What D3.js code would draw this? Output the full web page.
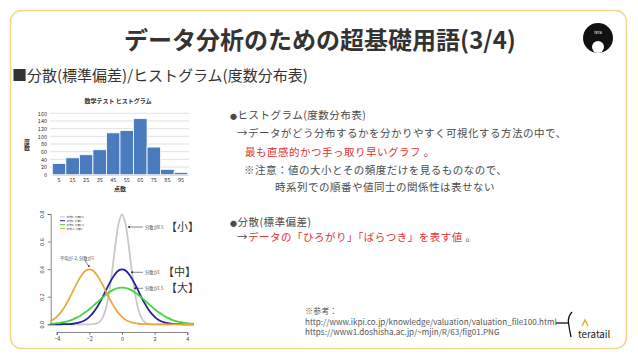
<!DOCTYPE html>
<html>
<head>
<meta charset="utf-8">
<script src="https://d3js.org/d3.v7.min.js"></script>
<style>
  body { margin: 0; background: #fff; }
  svg text { font-family: "Noto Sans CJK JP", "Noto Sans", sans-serif; }
</style>
</head>
<body>
<div id="slide"></div>
<script>
// --- histogram (数学テスト ヒストグラム) ---
const histBins = [5, 15, 25, 35, 45, 55, 65, 75, 85, 95];
const histCounts = [29, 44, 52, 65, 109, 115, 146, 72, 14, 6];
const histTicks = [0, 20, 40, 60, 80, 100, 120, 140, 160];

// --- density curves ---
const densX = [-4.4, -4.2, -4.0, -3.8, -3.6, -3.4, -3.2, -3.0, -2.8, -2.6, -2.4, -2.2, -2.0,
  -1.8, -1.6, -1.4, -1.2, -1.0, -0.8, -0.6, -0.4, -0.2, 0, 0.2, 0.4, 0.6, 0.8, 1.0, 1.2, 1.4,
  1.6, 1.8, 2.0, 2.2, 2.4, 2.6, 2.8, 3.0, 3.2, 3.4, 3.6, 3.8, 4.0, 4.2, 4.4];
const densGray = [0, 0, 0, 0, 0, 0, 0, 0, 0, 0, 0, 0, 0, 0.001, 0.005, 0.016, 0.045, 0.108, 0.222,
  0.388, 0.579, 0.737, 0.798, 0.737, 0.579, 0.388, 0.222, 0.108, 0.045, 0.016, 0.005, 0.001,
  0, 0, 0, 0, 0, 0, 0, 0, 0, 0, 0, 0, 0];
const densBlue = [0, 0, 0, 0, 0.001, 0.001, 0.002, 0.004, 0.008, 0.014, 0.022, 0.035, 0.054, 0.079,
  0.111, 0.150, 0.194, 0.242, 0.290, 0.333, 0.368, 0.391, 0.399, 0.391, 0.368, 0.333, 0.290,
  0.242, 0.194, 0.150, 0.111, 0.079, 0.054, 0.035, 0.022, 0.014, 0.008, 0.004, 0.002, 0.001,
  0.001, 0, 0, 0, 0];
const densGreen = [0.004, 0.005, 0.008, 0.011, 0.015, 0.020, 0.027, 0.036, 0.047, 0.059, 0.074,
  0.091, 0.109, 0.130, 0.151, 0.172, 0.193, 0.213, 0.231, 0.246, 0.257, 0.264, 0.266, 0.264,
  0.257, 0.246, 0.231, 0.213, 0.193, 0.172, 0.151, 0.130, 0.109, 0.091, 0.074, 0.059, 0.047,
  0.036, 0.027, 0.020, 0.015, 0.011, 0.008, 0.005, 0.004];
const densOrange = [0.022, 0.035, 0.054, 0.079, 0.111, 0.150, 0.194, 0.242, 0.290, 0.333, 0.368,
  0.391, 0.399, 0.391, 0.368, 0.333, 0.290, 0.242, 0.194, 0.150, 0.111, 0.079, 0.054, 0.035,
  0.022, 0.014, 0.008, 0.004, 0.002, 0.001, 0.001, 0, 0, 0, 0, 0, 0, 0, 0, 0, 0, 0, 0, 0, 0];
const densXTicks = [-4, -2, 0, 2, 4];
const densYTicks = [0, 0.2, 0.4, 0.6, 0.8];
const densLegend = ["平均0, 分散0.5", "平均0, 分散1", "平均0, 分散1.5", "平均-2, 分散1"];

const W = 638, H = 359;
const svg = d3.select("#slide").append("svg")
  .attr("width", W).attr("height", H);

// slide frame
svg.append("rect")
  .attr("x", 10.5).attr("y", 10.5).attr("width", 616).attr("height", 338)
  .attr("rx", 11)
  .attr("fill", "#fff").attr("stroke", "#f1d68c").attr("stroke-width", 1.5);

svg.append("text")
  .attr("x", 320).attr("y", 49)
  .attr("text-anchor", "middle")
  .attr("font-size", 24).attr("font-weight", "bold").attr("fill", "#333")
  .text("データ分析のための超基礎用語(3/4)");

svg.append("text")
  .attr("x", 12).attr("y", 80.5)
  .attr("font-size", 15).attr("fill", "#333")
  .text("■分散(標準偏差)/ヒストグラム(度数分布表)");

// afro icon top right
const icon = svg.append("g").attr("transform", "translate(598,38)");
icon.append("circle").attr("r", 15).attr("fill", "#111");
icon.append("circle").attr("cy", 9).attr("r", 6).attr("fill", "#fff");
icon.append("text").attr("y", -4).attr("text-anchor", "middle")
  .attr("font-size", 4).attr("fill", "#fff").text("tera");

// ---------- histogram ----------
const hx = d3.scaleBand().domain(histBins).range([52.3, 187.7]).padding(0);
const hy = d3.scaleLinear().domain([0, 160]).range([174.7, 113.3]);
const hist = svg.append("g");

hist.append("g").selectAll("line").data(histTicks).join("line")
  .attr("x1", 50).attr("x2", 189)
  .attr("y1", d => hy(d)).attr("y2", d => hy(d))
  .attr("stroke", "#d4d4d4").attr("stroke-width", 0.7);

hist.append("g").selectAll("rect").data(histBins).join("rect")
  .attr("x", d => hx(d)).attr("width", hx.bandwidth())
  .attr("y", (d, i) => hy(histCounts[i]))
  .attr("height", (d, i) => hy(0) - hy(histCounts[i]))
  .attr("fill", "#4a7bbf").attr("stroke", "#fff").attr("stroke-width", 0.8);

const hAxisY = hist.append("g").attr("transform", "translate(50,0)")
  .call(d3.axisLeft(hy).tickValues(histTicks).tickSize(0).tickPadding(3));
hAxisY.select(".domain").remove();
hAxisY.selectAll("text").attr("font-size", 5.5).attr("fill", "#333").attr("font-family", "Liberation Sans");

const hAxisX = hist.append("g").attr("transform", "translate(0,174.7)")
  .call(d3.axisBottom(hx).tickSize(0).tickPadding(3));
hAxisX.select(".domain").attr("stroke", "#bbb").attr("stroke-width", 0.6);
hAxisX.selectAll("text").attr("font-size", 5.5).attr("fill", "#333").attr("font-family", "Liberation Sans");

hist.append("text").attr("x", 118).attr("y", 103)
  .attr("text-anchor", "middle").attr("font-size", 6).attr("font-weight", "bold").attr("fill", "#333")
  .text("数学テスト ヒストグラム");
hist.append("text").attr("x", 120).attr("y", 191)
  .attr("text-anchor", "middle").attr("font-size", 6).attr("font-weight", "bold").attr("fill", "#333")
  .text("点数");
hist.append("text").attr("x", 27).attr("y", 145)
  .attr("writing-mode", "tb").attr("text-anchor", "middle")
  .attr("font-size", 6).attr("font-weight", "bold").attr("fill", "#333")
  .text("度数");

// ---------- density plot ----------
const dx = d3.scaleLinear().domain([-4, 4]).range([56.7, 187.3]);
const dy = d3.scaleLinear().domain([0, 0.8]).range([324.3, 214]);
const dens = svg.append("g");

const dAxisX = dens.append("g").attr("transform", "translate(0,332)")
  .call(d3.axisBottom(dx).tickValues(densXTicks).tickSizeOuter(0).tickSize(3).tickPadding(2));
const dAxisY = dens.append("g").attr("transform", "translate(50.7,0)")
  .call(d3.axisLeft(dy).tickValues(densYTicks).tickFormat(d3.format(".1f")).tickSizeOuter(0).tickSize(3).tickPadding(2));
[dAxisX, dAxisY].forEach(a => {
  a.selectAll("path, line").attr("stroke", "#555").attr("stroke-width", 0.7);
  a.selectAll("text").attr("font-size", 5.5).attr("fill", "#444").attr("font-family", "Liberation Sans");
});
// R draws the y labels turned on their side
dAxisY.selectAll("text")
  .attr("text-anchor", "middle").attr("dy", null)
  .attr("x", 0).attr("y", 0)
  .attr("transform", "translate(-6.5,0) rotate(-90)");

const curves = [
  { vals: densGray, color: "#c9c9c9" },
  { vals: densBlue, color: "#22229a" },
  { vals: densGreen, color: "#45d63c" },
  { vals: densOrange, color: "#eaa93a" }
];
const line = d3.line().x(d => dx(d[0])).y(d => dy(d[1])).curve(d3.curveCatmullRom);
dens.append("g").selectAll("path").data(curves).join("path")
  .attr("d", c => line(densX.map((x, i) => [x, c.vals[i]])))
  .attr("fill", "none").attr("stroke", c => c.color).attr("stroke-width", 1.8);

// legend
const leg = dens.append("g");
leg.selectAll("line").data(curves).join("line")
  .attr("x1", 60).attr("x2", 65)
  .attr("y1", (c, i) => 216.8 + i * 3.9).attr("y2", (c, i) => 216.8 + i * 3.9)
  .attr("stroke", c => c.color).attr("stroke-width", 1);
leg.selectAll("text").data(densLegend).join("text")
  .attr("x", 66.5).attr("y", (d, i) => 217.8 + i * 3.9)
  .attr("font-size", 2.7).attr("fill", "#444")
  .text(d => d);

// annotations
const defs = svg.append("defs");
defs.append("marker").attr("id", "ah").attr("viewBox", "0 0 6 6")
  .attr("refX", 5).attr("refY", 3).attr("markerWidth", 4).attr("markerHeight", 4)
  .attr("orient", "auto")
  .append("path").attr("d", "M0,0L6,3L0,6Z").attr("fill", "#333");

const notes = [
  { text: "分散が0.5", y: 227, x2: 128, big: "【小】", bx: 166 },
  { text: "分散が1", y: 272.3, x2: 131, big: "【中】", bx: 163 },
  { text: "分散が1.5", y: 288.3, x2: 134, big: "【大】", bx: 166 }
];
const ann = dens.append("g");
notes.forEach(n => {
  ann.append("line").attr("x1", 143).attr("x2", n.x2).attr("y1", n.y).attr("y2", n.y)
    .attr("stroke", "#333").attr("stroke-width", 0.6).attr("marker-end", "url(#ah)");
  ann.append("text").attr("x", 145).attr("y", n.y + 1.5)
    .attr("font-size", 4.2).attr("fill", "#444").text(n.text);
  ann.append("text").attr("x", n.bx).attr("y", n.y + 4)
    .attr("font-size", 11).attr("fill", "#333").text(n.big);
});
ann.append("text").attr("x", 60).attr("y", 259.5)
  .attr("font-size", 4.3).attr("fill", "#444").text("平均が-2, 分散が1");
ann.append("line").attr("x1", 85).attr("y1", 261).attr("x2", 89.5).attr("y2", 267)
  .attr("stroke", "#333").attr("stroke-width", 0.6).attr("marker-end", "url(#ah)");

// ---------- right text block ----------
const red = "#e5312f", gray = "#4a4a4a";
const bodyLines = [
  { x: 230, y: 119, parts: [["●", gray, 7], ["ヒストグラム(度数分布表)", gray]] },
  { x: 237, y: 137, parts: [["→データがどう分布するかを分かりやすく可視化する方法の中で、", gray]] },
  { x: 245, y: 155.5, parts: [["最も直感的かつ手っ取り早いグラフ", red], [" 。", gray]] },
  { x: 244, y: 174, parts: [["※注意：値の大小とその頻度だけを見るものなので、", gray]] },
  { x: 275, y: 191, parts: [["時系列での順番や値同士の関係性は表せない", gray]] },
  { x: 230, y: 225.5, parts: [["●", gray, 7], ["分散(標準偏差)", gray]] },
  { x: 237, y: 241, parts: [["→", gray], ["データの「ひろがり」「ばらつき」を表す値", red], [" 。", gray]] }
];
const body = svg.append("g");
bodyLines.forEach(l => {
  const t = body.append("text").attr("x", l.x).attr("y", l.y)
    .attr("font-size", 10.5).attr("letter-spacing", 0.5);
  l.parts.forEach(p => {
    const s = t.append("tspan").attr("fill", p[1]).text(p[0]);
    if (p[2]) s.attr("font-size", p[2]);
  });
});

// references
const refs = ["※参考：",
  "http://www.ikpi.co.jp/knowledge/valuation/valuation_file100.html",
  "https://www1.doshisha.ac.jp/~mjin/R/63/fig01.PNG"];
svg.append("g").selectAll("text").data(refs).join("text")
  .attr("x", 305).attr("y", (d, i) => 314 + i * 10.5)
  .attr("font-size", 8.1).attr("fill", "#555")
  .attr("font-family", "Liberation Sans")
  .text(d => d);

// teratail logo
const logo = svg.append("g");
logo.append("line").attr("x1", 556).attr("x2", 569).attr("y1", 323).attr("y2", 323)
  .attr("stroke", "#111").attr("stroke-width", 1.3);
logo.append("path").attr("d", "M572,312 Q567.5,317 568.5,323 Q569.5,330 571,337")
  .attr("fill", "none").attr("stroke", "#111").attr("stroke-width", 1.3);
logo.append("path").attr("d", "M582,326 L585,320 L588,326")
  .attr("fill", "none").attr("stroke", "#e6b52e").attr("stroke-width", 1.6);
logo.append("text").attr("x", 578).attr("y", 338)
  .attr("font-family", "DejaVu Sans Mono").attr("font-size", 9.8).attr("fill", "#222")
  .text("teratail");
</script>
</body>
</html>
